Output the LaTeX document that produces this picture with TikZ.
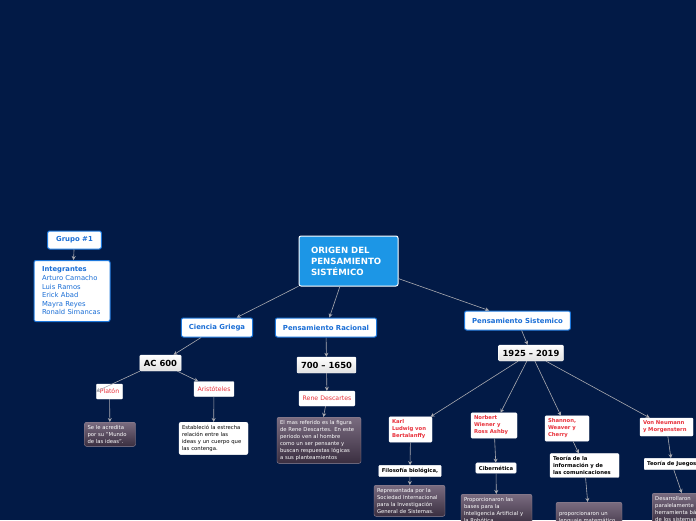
\documentclass[tikz,border=0pt]{standalone}
\usepackage{fontspec}
\setmainfont{DejaVu Sans}
\usetikzlibrary{arrows.meta}

\definecolor{navy}{RGB}{2,26,70}
\definecolor{mainblue}{RGB}{28,150,230}
\definecolor{topicblue}{RGB}{30,120,220}
\definecolor{textblue}{RGB}{26,110,214}
\definecolor{namered}{RGB}{232,48,58}
\definecolor{linkgray}{RGB}{170,170,176}
\definecolor{notetop}{RGB}{122,108,128}
\definecolor{notebot}{RGB}{58,46,64}

\begin{document}
\begin{tikzpicture}[x=1pt, y=-1pt,
  mainbox/.style={draw=white, line width=1pt, fill=mainblue, rounded corners=2pt, text=white,
    font=\fontsize{8.6}{11}\selectfont\bfseries, align=left, text width=75pt, inner xsep=12pt,
    minimum height=50pt},
  topic/.style={draw=topicblue, line width=1pt, fill=white, rounded corners=2pt, text=textblue,
    font=\fontsize{6.9}{8}\selectfont\bfseries, inner xsep=7.5pt, minimum height=19pt},
  datebox/.style={draw=white, top color=white, bottom color=black!12, rounded corners=1pt,
    font=\fontsize{8.4}{10}\selectfont\bfseries, inner xsep=4pt, minimum height=16pt},
  namebox/.style={draw=white, fill=white, rounded corners=1pt, text=namered,
    font=\fontsize{6.2}{7}\selectfont, inner xsep=3.5pt, minimum height=15pt},
  author/.style={draw=white, fill=white, rounded corners=1pt, text=namered, align=left,
    font=\fontsize{5.3}{7}\selectfont\bfseries, inner sep=3pt},
  theory/.style={draw=white, fill=white, rounded corners=1pt, align=left,
    font=\fontsize{5.3}{6.8}\selectfont\bfseries, inner sep=3pt},
  note/.style={draw=notetop!80!white, top color=notetop, bottom color=notebot, rounded corners=2pt,
    text=white, align=left, font=\fontsize{5.3}{7}\selectfont, inner sep=3pt, anchor=north},
  wnote/.style={draw=white, fill=white, rounded corners=2pt, align=left,
    font=\fontsize{5.3}{7}\selectfont, inner sep=3pt, anchor=north},
  link/.style={draw=linkgray, line width=0.6pt, -{Stealth[length=4pt,width=4pt]}}
]
\useasboundingbox (0,0) rectangle (696,520);
\fill[navy] (0,0) rectangle (696,520);
\clip (0,0) rectangle (696,520);

% group
\node[topic, inner xsep=8.5pt, minimum height=18pt] (grupo) at (74.5,240) {Grupo \#1};
\node[topic, anchor=north, align=left, text width=60pt, inner xsep=8pt, minimum height=61pt,
  font=\fontsize{6.8}{8.6}\selectfont] (integ) at (72,260)
  {\textbf{Integrantes}\\Arturo Camacho\\Luis Ramos\\Erick Abad\\Mayra Reyes\\Ronald Simancas};

% root and branches
\node[mainbox] (origen) at (348.5,261) {ORIGEN DEL\\PENSAMIENTO\\SISTÉMICO};
\node[topic] (griega) at (217,327.5) {Ciencia Griega};
\node[topic] (racional) at (326,327.5) {Pensamiento Racional};
\node[topic] (sistemico) at (517.5,320.5) {Pensamiento Sistemico};

% greek science
\node[datebox] (ac) at (160.5,363) {AC 600};
\node[namebox] (platon) at (109.5,391.5) {Platón};
\node[namebox] (aristo) at (214,389) {Aristóteles};
\node[note, text width=45pt] (mundo) at (110,422) {Se le acredita\\por su "Mundo\\de las ideas".};
\node[wnote, text width=63pt] (cuerpo) at (213.5,422)
  {Estableció la estrecha\\relación entre las\\ideas y un cuerpo que\\las contenga.};

% rational thought
\node[datebox] (periodo) at (326.5,365) {700 -- 1650};
\node[namebox] (rene) at (327,398.5) {Rene Descartes};
\node[note, text width=78pt] (pensante) at (319,417)
  {El mas referido es la figura\\de Rene Descartes. En este\\periodo ven al hombre\\como un ser pensante y\\buscan respuestas lógicas\\a sus planteamientos};

% systems thought
\node[datebox] (moderno) at (531,353) {1925 -- 2019};
\node[author, text width=37pt] (karl) at (410.5,429.5) {Karl\\Ludwig von\\Bertalanffy};
\node[author, text width=40pt] (wiener) at (494,425.5) {Norbert\\Wiener y\\Ross Ashby};
\node[author, text width=38pt] (shannon) at (567,428.5) {Shannon,\\Weaver y\\Cherry};
\node[author, text width=47pt] (neumann) at (666.5,427) {Von Neumann\\y Morgenstern};

\node[theory] (biologica) at (410,471) {Filosofía biológica,};
\node[theory] (ciber) at (496,468) {Cibernética};
\node[theory, text width=63pt] (info) at (584.5,465.5) {Teoría de la\\información y de\\las comunicaciones};
\node[theory, anchor=west] (juegos) at (644,464) {Teoría de Juegos};

\node[note, text width=65pt] (sociedad) at (409.5,485)
  {Representada por la\\Sociedad Internacional\\para la Investigación\\General de Sistemas.};
\node[note, text width=65pt] (robotica) at (496.5,494)
  {Proporcionaron las\\bases para la\\Inteligencia Artificial y\\la Robótica.};
\node[note, text width=60pt, minimum height=30pt] (lenguaje) at (589,502)
  {proporcionaron un\\lenguaje matemático};
\node[note, anchor=north west, text width=64pt] (herram) at (652,493)
  {Desarrollaron\\paralelamente\\herramienta básica\\de los sistemas};

% connectors
\draw[link] (grupo) -- (integ);
\draw[link] (origen) -- (griega);
\draw[link] (origen) -- (racional);
\draw[link] (origen) -- (sistemico);
\draw[link] (griega) -- (ac);
\draw[link] (ac.south west) -- (platon.west);
\draw[link] (ac) -- (aristo);
\draw[link] (platon) -- (mundo);
\draw[link] (aristo) -- (cuerpo);
\draw[link] (racional) -- (periodo);
\draw[link] (periodo) -- (rene);
\draw[link] (rene) -- (pensante);
\draw[link] (sistemico) -- (moderno);
\foreach \who/\what/\why in {karl/biologica/sociedad, wiener/ciber/robotica,
    shannon/info/lenguaje, neumann/juegos/herram} {
  \draw[link] (moderno) -- (\who);
  \draw[link] (\who) -- (\what);
  \draw[link] (\what) -- (\why);
}
\end{tikzpicture}
\end{document}
